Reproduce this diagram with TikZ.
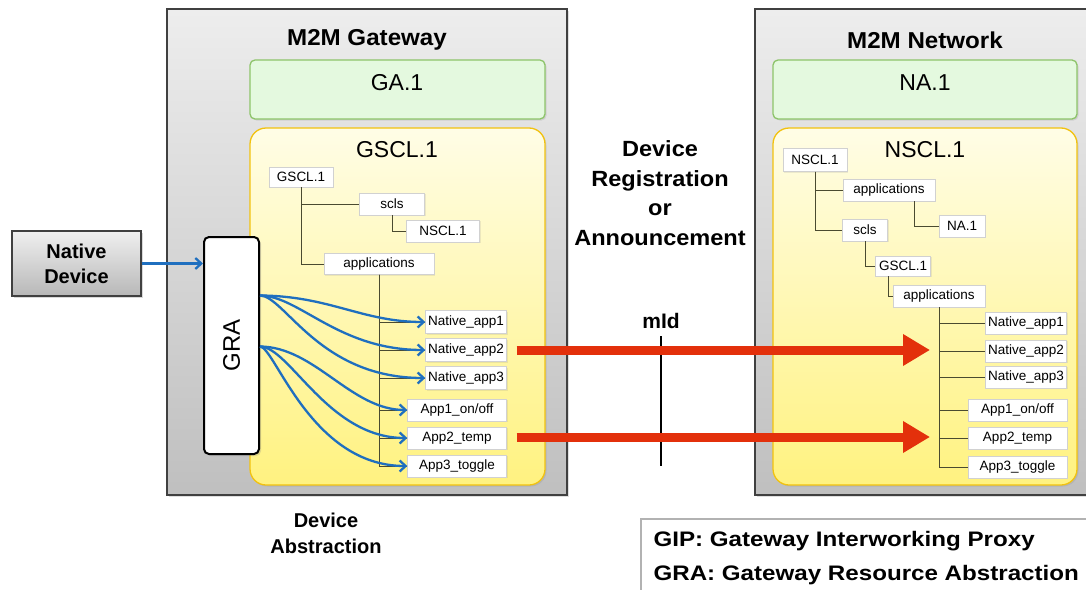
\documentclass[tikz,border=0pt]{standalone}
\usepackage{fontspec}
\setmainfont{Liberation Sans}
\usetikzlibrary{arrows.meta,shadows}
\definecolor{blu}{HTML}{1F6FBF}
\definecolor{redarr}{HTML}{E3300B}
\definecolor{gfill}{HTML}{E4F9DF}
\definecolor{gdraw}{HTML}{8DC46A}
\definecolor{ytop}{HTML}{FFFDE6}
\definecolor{ybot}{HTML}{FFF280}
\definecolor{ydraw}{HTML}{F2C20F}
\definecolor{treeline}{HTML}{4A4A30}
\newcommand\fsz[2]{\fontsize{#1}{#2}\selectfont}
\begin{document}
\begin{tikzpicture}[x=1pt,y=1pt,
  graybox/.style={draw=black!75,line width=1.2pt,top color=black!7,bottom color=black!25,
    drop shadow={opacity=0.25,shadow xshift=2pt,shadow yshift=-2pt}},
  greenbox/.style={draw=gdraw,line width=1.3pt,fill=gfill,rounded corners=5pt,
    drop shadow={opacity=0.2,shadow xshift=1.5pt,shadow yshift=-1.5pt}},
  yellowbox/.style={draw=ydraw,line width=1.3pt,top color=ytop,bottom color=ybot,rounded corners=16pt,
    drop shadow={opacity=0.2,shadow xshift=1.5pt,shadow yshift=-1.5pt}},
  leaf/.style={draw=black!18,fill=white,inner sep=0pt,font=\fsz{13.5}{16},
    drop shadow={opacity=0.15,shadow xshift=1pt,shadow yshift=-1pt}},
  tree/.style={draw=treeline,line width=0.9pt},
  bluearrow/.style={draw=blu,line width=2.3pt,-{Straight Barb[length=6pt,width=11pt,line width=2.3pt]}},
  redarrow/.style={draw=redarr,line width=9pt,-{Triangle[length=27pt,width=30pt]}},
  title/.style={font=\bfseries\fsz{23}{27}},
  bigtext/.style={font=\fsz{23}{27}},
  boldtext/.style={font=\bfseries\fsz{21}{26},align=center}
]
\useasboundingbox (0,0) rectangle (1086,-589);

% ---------- gray containers ----------
\path[graybox] (167,-9) rectangle (567,-495);
\path[graybox] (755,-9) rectangle (1100,-495);

\node[title] (gwtitle) at (367,-40) {\scalebox{1.05}[1]{M2M Gateway}};
\node[title] (nwtitle) at (925,-40) {\scalebox{1.05}[1]{M2M Network}};

% ---------- green application boxes ----------
\path[greenbox] (250,-60) rectangle (545,-119);
\path[greenbox] (773,-60) rectangle (1077,-119);
\node[bigtext] (ga) at (397,-83) {GA.1};
\node[bigtext] (na) at (925,-83) {NA.1};

% ---------- yellow SCL boxes ----------
\path[yellowbox] (250,-128) rectangle (545,-485);
\path[yellowbox] (773,-128) rectangle (1077,-485);
\node[bigtext] (gscl) at (397,-150) {GSCL.1};
\node[bigtext] (nscl) at (925,-150) {NSCL.1};

% ---------- gateway tree ----------
\node[leaf,minimum width=64pt,minimum height=20pt] (gG) at (301,-177) {GSCL.1};
\node[leaf,minimum width=65pt,minimum height=22pt] (gS) at (392,-204) {scls};
\node[leaf,minimum width=73pt,minimum height=22pt] (gN) at (443,-231) {NSCL.1};
\node[leaf,minimum width=110pt,minimum height=21pt] (gA) at (379,-264) {applications};
\node[leaf,minimum width=81pt,minimum height=23pt] (gn1) at (466,-322) {Native\_app1};
\node[leaf,minimum width=81pt,minimum height=23pt] (gn2) at (466,-350) {Native\_app2};
\node[leaf,minimum width=81pt,minimum height=23pt] (gn3) at (466,-378) {Native\_app3};
\node[leaf,minimum width=99pt,minimum height=22pt] (ga1) at (457,-410) {App1\_on/off};
\node[leaf,minimum width=99pt,minimum height=22pt] (ga2) at (457,-438) {App2\_temp};
\node[leaf,minimum width=99pt,minimum height=22pt] (ga3) at (457,-466) {App3\_toggle};

\path[tree] (gG.south) |- (gS.west);
\path[tree] (gG.south) |- (gA.west);
\path[tree] (gS.south) |- (gN.west);
\path[tree] (gA.south) |- (gn1.west);
\path[tree] (gA.south) |- (gn2.west);
\path[tree] (gA.south) |- (gn3.west);
\path[tree] (gA.south) |- (ga1.west);
\path[tree] (gA.south) |- (ga2.west);
\path[tree] (gA.south) |- (ga3.west);

% ---------- network tree ----------
\node[leaf,minimum width=64pt,minimum height=23pt] (nN) at (815,-160) {NSCL.1};
\node[leaf,minimum width=92pt,minimum height=22pt] (nA) at (889,-190) {applications};
\node[leaf,minimum width=46pt,minimum height=22pt] (nNA) at (962,-226) {NA.1};
\node[leaf,minimum width=45pt,minimum height=22pt] (nS) at (865,-230) {scls};
\node[leaf,minimum width=55pt,minimum height=20pt] (nG) at (903,-266) {GSCL.1};
\node[leaf,minimum width=92pt,minimum height=22pt] (nAp) at (939,-296) {applications};
\node[leaf,minimum width=81pt,minimum height=22pt] (nn1) at (1026,-323) {Native\_app1};
\node[leaf,minimum width=81pt,minimum height=22pt] (nn2) at (1026,-351) {Native\_app2};
\node[leaf,minimum width=81pt,minimum height=22pt] (nn3) at (1026,-377) {Native\_app3};
\node[leaf,minimum width=99pt,minimum height=22pt] (na1) at (1017.5,-410) {App1\_on/off};
\node[leaf,minimum width=99pt,minimum height=22pt] (na2) at (1017.5,-438) {App2\_temp};
\node[leaf,minimum width=99pt,minimum height=22pt] (na3) at (1017.5,-467) {App3\_toggle};

\path[tree] (nN.south) |- (nA.west);
\path[tree] (nN.south) |- (nS.west);
\path[tree] ([xshift=25pt]nA.south) |- (nNA.west);
\path[tree] (nS.south) |- (nG.west);
\path[tree] ([xshift=-15pt]nG.south) |- (nAp.west);
\path[tree] (nAp.south) |- (nn1.west);
\path[tree] (nAp.south) |- (nn2.west);
\path[tree] (nAp.south) |- (nn3.west);
\path[tree] (nAp.south) |- (na1.west);
\path[tree] (nAp.south) |- (na2.west);
\path[tree] (nAp.south) |- (na3.west);

% ---------- native device and GRA ----------
\node[draw=black!75,line width=1.2pt,top color=black!6,bottom color=black!28,
  minimum width=129pt,minimum height=65pt,font=\bfseries\fsz{20}{25},align=center,
  drop shadow={opacity=0.3,shadow xshift=2pt,shadow yshift=-2pt}] (nd) at (76.5,-263.5) {Native\\Device};
\node[draw=black,line width=2pt,fill=white,rounded corners=5pt,
  minimum width=55pt,minimum height=217pt,
  drop shadow={opacity=0.25,shadow xshift=2pt,shadow yshift=-2pt}] (GRA) at (231.5,-345.5) {};
\node[rotate=90,font=\fsz{24}{28}] (gratext) at (GRA.center) {GRA};

\draw[bluearrow] (nd.east) -- (nd.east -| GRA.west);

\coordinate (o1) at ([yshift=50pt]GRA.east);
\coordinate (o2) at ([yshift=-1pt]GRA.east);
\draw[bluearrow] (o1) .. controls (330,-296) and (362,-322) .. (gn1.west);
\draw[bluearrow] (o1) .. controls (300,-296) and (338,-350) .. (gn2.west);
\draw[bluearrow] (o1) .. controls (285,-296) and (319,-378) .. (gn3.west);
\draw[bluearrow] (o2) .. controls (315,-347) and (351,-410) .. (ga1.west);
\draw[bluearrow] (o2) .. controls (290,-347) and (328,-438) .. (ga2.west);
\draw[bluearrow] (o2) .. controls (275,-347) and (311,-466) .. (ga3.west);

% ---------- middle labels, reference point, red arrows ----------
\node[align=center,font=\bfseries\fsz{22}{29.5}] (reg) at (660,-193) {\scalebox{1.07}[1]{Device}\\\scalebox{1.07}[1]{Registration}\\\scalebox{1.07}[1]{or}\\\scalebox{1.07}[1]{Announcement}};
\node[font=\bfseries\fsz{21}{25}] (mid) at (661,-321) {mId};
\coordinate (mtop) at (661,-336);
\coordinate (mbot) at (661,-466);
\draw[line width=2.2pt,black] (mtop) -- (mbot);

\coordinate (r1) at (930,-350);
\coordinate (r2) at (930,-437);
\draw[redarrow,shorten <=10pt] (gn2.east) -- (r1);
\draw[redarrow,shorten <=10pt] (ga2.east |- r2) -- (r2);

\node[boldtext,font=\bfseries\fsz{20}{26}] (abs) at (326,-533) {Device\\Abstraction};

% ---------- legend ----------
\path[draw=black!30,line width=1.2pt,fill=white] (641,-519) rectangle (1100,-600);
\node[anchor=west,font=\bfseries\fsz{21}{25}] (gip) at (650,-541) {\scalebox{1.15}[1]{GIP: Gateway Interworking Proxy}};
\node[anchor=west,font=\bfseries\fsz{21}{25}] (grad) at (650,-575) {\scalebox{1.15}[1]{GRA: Gateway Resource Abstraction}};
\end{tikzpicture}
\end{document}
